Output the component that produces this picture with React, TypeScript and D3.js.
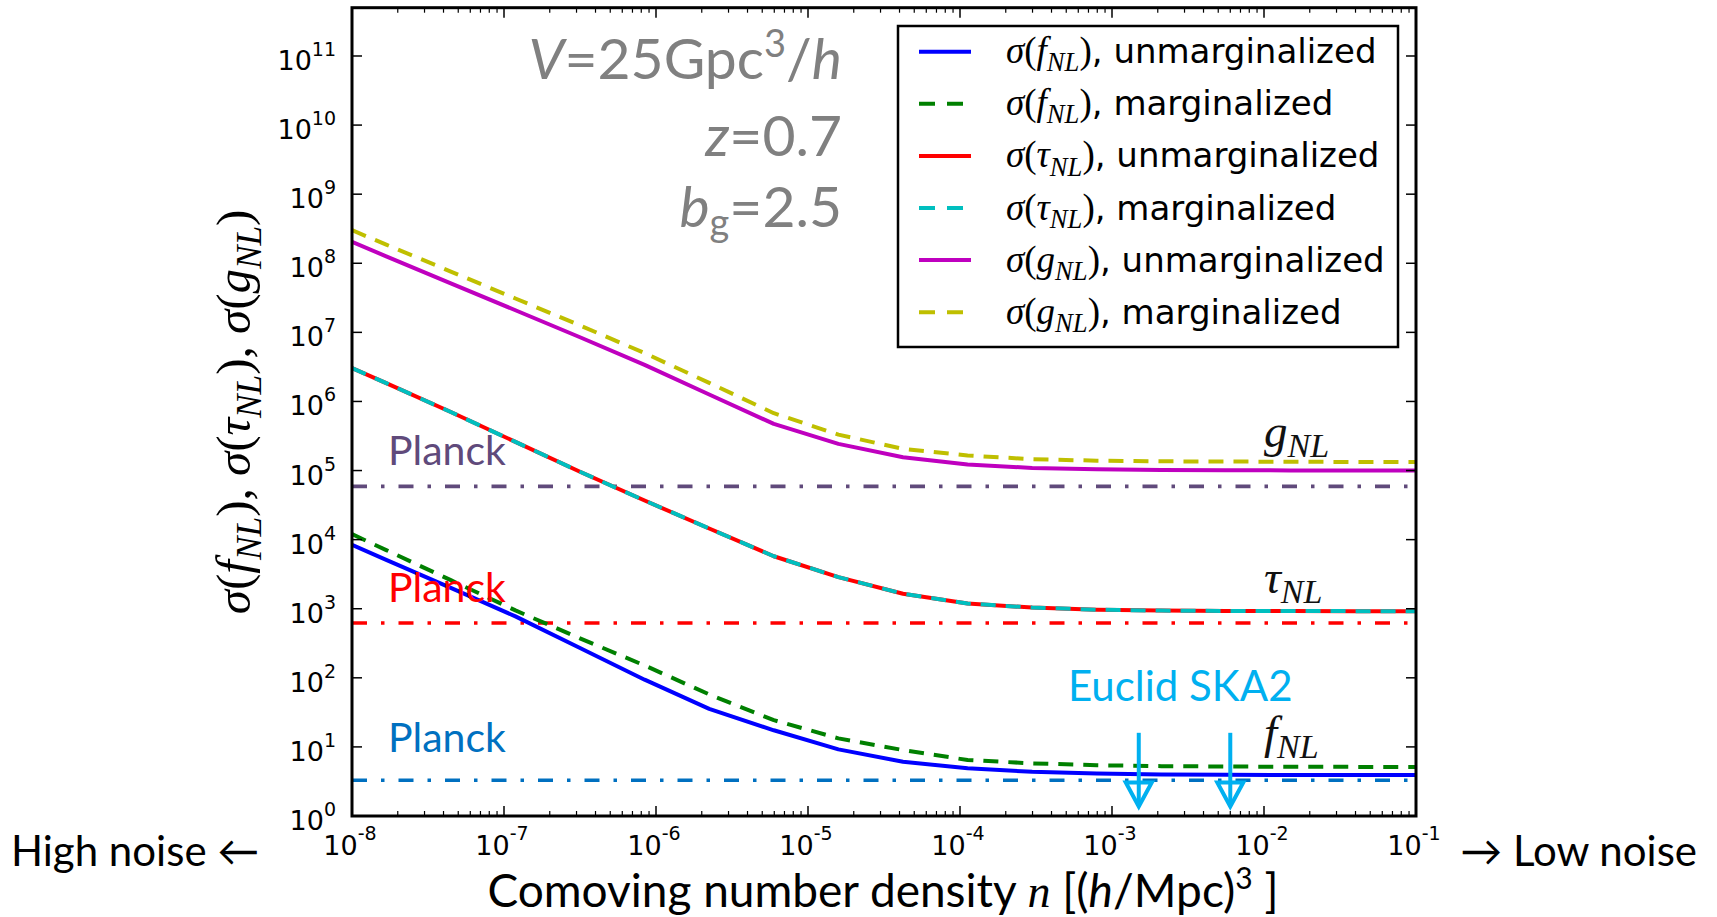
import React from "react";
import * as d3 from "d3";

// Comoving number density sample points [(h/Mpc)^3]
const density = [
  1e-8, 1.679e-8, 4.467e-8, 1.189e-7, 3.162e-7, 8.414e-7, 2.239e-6, 5.957e-6,
  1.585e-5, 4.217e-5, 1.122e-4, 2.985e-4, 7.943e-4, 2.113e-3, 5.623e-3,
  1.496e-2, 3.981e-2, 1e-1,
];

const sigmaFnlUnmarg = [8400, 5100, 2000, 776, 270, 94, 35.5, 17.4, 9.2, 6.1, 4.9, 4.37, 4.12, 4.0, 3.95, 3.93, 3.91, 3.91];
const sigmaFnlMarg = [12000, 7060, 2590, 946, 372, 151, 57.5, 24.4, 13.3, 9.0, 6.46, 5.78, 5.43, 5.27, 5.2, 5.16, 5.14, 5.13];
const sigmaTnlUnmarg = [3.05e6, 1.84e6, 7.03e5, 2.6e5, 9.6e4, 3.68e4, 1.45e4, 5750, 2870, 1650, 1190, 1040, 966, 940, 929, 925, 923, 923];
const sigmaTnlMarg = [3.05e6, 1.84e6, 7.03e5, 2.6e5, 9.6e4, 3.68e4, 1.45e4, 5750, 2870, 1650, 1190, 1040, 966, 940, 929, 925, 923, 923];
const sigmaGnlUnmarg = [2.04e8, 1.26e8, 5.13e7, 2.09e7, 8.5e6, 3.39e6, 1.26e6, 4.73e5, 2.43e5, 1.56e5, 1.22e5, 1.09e5, 1.04e5, 1.02e5, 1.01e5, 1.005e5, 1.0e5, 1.0e5];
const sigmaGnlMarg = [3.01e8, 1.86e8, 7.59e7, 3.09e7, 1.26e7, 5.01e6, 1.86e6, 6.76e5, 3.31e5, 2.06e5, 1.65e5, 1.46e5, 1.39e5, 1.36e5, 1.35e5, 1.34e5, 1.33e5, 1.33e5];

// Planck 1-sigma constraints
const planckFnl = 3.3;
const planckTnl = 620;
const planckGnl = 5.9e4;

// Survey number densities
const surveyDensity = [1.5e-3, 6e-3];
const surveyArrowTop = 16;
const surveyArrowTip = 1.37;

const yTickExponents = [0, 1, 2, 3, 4, 5, 6, 7, 8, 9, 10, 11];
const xTickExponents = [-8, -7, -6, -5, -4, -3, -2, -1];

const W = 1717;
const H = 917;
const L = 352;
const R = 1416;
const T = 7.7;
const B = 816;

const SANS = "'DejaVu Sans', sans-serif";
const SERIF = "'Liberation Serif', 'DejaVu Serif', serif";
const OFFICE = "Lato, 'Open Sans', sans-serif";

const x = d3.scaleLog().domain([1e-8, 1e-1]).range([L, R]);
const y = d3.scaleLog().domain([1, 5e11]).range([B, T]);

const line = d3
  .line<[number, number]>()
  .x((d) => x(d[0]))
  .y((d) => y(d[1]));

const pairs = (vals: number[]) => density.map((n, i) => [n, vals[i]] as [number, number]);

const DASH = "15,10";
const DASHDOT = "15,14,3.5,14";

type Series = { vals: number[]; color: string; dash?: string; sym: string; sub: string; kind: string };
const series: Series[] = [
  { vals: sigmaFnlUnmarg, color: "#0000ff", sym: "f", sub: "NL", kind: "unmarginalized" },
  { vals: sigmaFnlMarg, color: "#008000", dash: DASH, sym: "f", sub: "NL", kind: "marginalized" },
  { vals: sigmaTnlUnmarg, color: "#ff0000", sym: "τ", sub: "NL", kind: "unmarginalized" },
  { vals: sigmaTnlMarg, color: "#00bfbf", dash: DASH, sym: "τ", sub: "NL", kind: "marginalized" },
  { vals: sigmaGnlUnmarg, color: "#bf00bf", sym: "g", sub: "NL", kind: "unmarginalized" },
  { vals: sigmaGnlMarg, color: "#bfbf00", dash: DASH, sym: "g", sub: "NL", kind: "marginalized" },
];

const planck = [
  { v: planckGnl, color: "#604a7b" },
  { v: planckTnl, color: "#ff0000" },
  { v: planckFnl, color: "#0070c0" },
];

const minorTicks = (() => {
  const out: number[] = [];
  for (let e = -8; e < -1; e++) {
    for (let k = 2; k <= 9; k++) out.push(k * Math.pow(10, e));
  }
  return out;
})();

function SigmaLabel({ sym, sub, size }: { sym: string; sub: string; size: number }) {
  return (
    <>
      <tspan fontFamily={SERIF} fontSize={size} fontStyle="italic">σ</tspan>
      <tspan fontFamily={SERIF} fontSize={size}>(</tspan>
      <tspan fontFamily={SERIF} fontSize={size} fontStyle="italic">{sym}</tspan>
      <tspan fontFamily={SERIF} fontStyle="italic" fontSize={size * 0.72} dy={size * 0.22}>{sub}</tspan>
      <tspan fontFamily={SERIF} fontSize={size} dy={-size * 0.22}>)</tspan>
    </>
  );
}

export default function App() {
  const legendX = 898;
  const legendY = 26;
  const rowGap = 52.1;
  const arrowX = surveyDensity.map((d) => x(d));

  return (
    <svg
      width={W}
      height={H}
      viewBox={`0 0 ${W} ${H}`}
      style={{ position: "absolute", left: 0, top: 0, background: "#fff" }}
    >
      <defs>
        <clipPath id="plotArea">
          <rect x={L} y={T} width={R - L} height={B - T} />
        </clipPath>
      </defs>
      <rect width={W} height={H} fill="#fff" />

      <g clipPath="url(#plotArea)">
        {planck.map((p, i) => (
          <line
            key={i}
            x1={L}
            x2={R}
            y1={y(p.v)}
            y2={y(p.v)}
            stroke={p.color}
            strokeWidth={3.6}
            strokeDasharray={DASHDOT}
          />
        ))}
        {series.map((s, i) => (
          <path
            key={i}
            d={line(pairs(s.vals)) || ""}
            fill="none"
            stroke={s.color}
            strokeWidth={4}
            strokeDasharray={s.dash}
            strokeLinejoin="round"
          />
        ))}
      </g>

      {/* Planck labels */}
      <text x={388} y={465} fontFamily={OFFICE} fontSize={41} fill="#604a7b">Planck</text>
      <text x={388} y={602} fontFamily={OFFICE} fontSize={41} fill="#ff0000">Planck</text>
      <text x={388} y={752} fontFamily={OFFICE} fontSize={41} fill="#0070c0">Planck</text>

      {/* curve annotations */}
      {[
        { sym: "g", yb: 447 },
        { sym: "τ", yb: 593 },
        { sym: "f", yb: 748 },
      ].map((a, i) => (
        <text key={i} x={1264} y={a.yb} fontFamily={SERIF} fontStyle="italic" fontSize={47} fill="#111">
          <tspan>{a.sym}</tspan>
          <tspan fontSize={34} dy={10}>NL</tspan>
        </text>
      ))}

      {/* survey markers */}
      <text x={1068} y={701} fontFamily={OFFICE} fontSize={42} fill="#00b0f0">Euclid SKA2</text>
      {arrowX.map((ax, i) => {
        const top = y(surveyArrowTop);
        const tip = y(surveyArrowTip);
        return (
          <g key={i} stroke="#00b0f0" strokeWidth={4} fill="none">
            <line x1={ax} x2={ax} y1={top} y2={tip - 4} />
            <path d={`M${ax - 13},${tip - 24} L${ax + 13},${tip - 24} L${ax},${tip} Z`} strokeLinejoin="miter" />
          </g>
        );
      })}

      {/* axes frame */}
      <rect x={L} y={T} width={R - L} height={B - T} fill="none" stroke="#000" strokeWidth={3} />

      {/* y ticks */}
      {yTickExponents.map((e) => {
        const ty = y(Math.pow(10, e));
        return (
          <g key={e}>
            <line x1={L} x2={L + 10} y1={ty} y2={ty} stroke="#000" strokeWidth={1.5} />
            <line x1={R} x2={R - 10} y1={ty} y2={ty} stroke="#000" strokeWidth={1.5} />
            <text x={336} y={ty + 14} textAnchor="end" fontFamily={SANS} fontSize={27} fill="#000">
              <tspan>10</tspan>
              <tspan fontSize={19} dy={-14}>{e}</tspan>
            </text>
          </g>
        );
      })}

      {/* x ticks */}
      {minorTicks.map((v, i) => (
        <g key={i}>
          <line x1={x(v)} x2={x(v)} y1={B} y2={B - 5} stroke="#000" strokeWidth={1.2} />
          <line x1={x(v)} x2={x(v)} y1={T} y2={T + 5} stroke="#000" strokeWidth={1.2} />
        </g>
      ))}
      {xTickExponents.map((e) => {
        const tx = x(Math.pow(10, e));
        return (
          <g key={e}>
            <line x1={tx} x2={tx} y1={B} y2={B - 10} stroke="#000" strokeWidth={1.5} />
            <line x1={tx} x2={tx} y1={T} y2={T + 10} stroke="#000" strokeWidth={1.5} />
            <text x={tx - 2} y={855} textAnchor="middle" fontFamily={SANS} fontSize={27} fill="#000">
              <tspan>10</tspan>
              <tspan fontSize={19} dy={-15}>{`-${-e}`}</tspan>
            </text>
          </g>
        );
      })}

      {/* y axis label */}
      <text
        transform={`translate(250,${(T + B) / 2}) rotate(-90)`}
        textAnchor="middle"
        fill="#000"
      >
        <SigmaLabel sym="f" sub="NL" size={49} />
        <tspan fontFamily={SERIF} fontSize={49}>, </tspan>
        <SigmaLabel sym="τ" sub="NL" size={49} />
        <tspan fontFamily={SERIF} fontSize={49}>, </tspan>
        <SigmaLabel sym="g" sub="NL" size={49} />
      </text>

      {/* x axis label */}
      <text x={883} y={907} textAnchor="middle" fontFamily={OFFICE} fontSize={46} fill="#000">
        <tspan>Comoving number density </tspan>
        <tspan fontFamily={SERIF} fontStyle="italic">n</tspan>
        <tspan>{"  [("}</tspan>
        <tspan fontStyle="italic">h</tspan>
        <tspan>/Mpc)</tspan>
        <tspan fontSize={30} dy={-18}>3</tspan>
        <tspan dy={18}>{" ]"}</tspan>
      </text>

      <text x={11} y={866} fontFamily={OFFICE} fontSize={42} fill="#000">High noise ←</text>
      <text x={1697} y={866} textAnchor="end" fontFamily={OFFICE} fontSize={42} fill="#000">→ Low noise</text>

      {/* survey parameters */}
      <g fontFamily={OFFICE} fontSize={57} fill="#808080" textAnchor="end">
        <text x={842} y={79}>
          <tspan fontStyle="italic">V</tspan>
          <tspan>=25Gpc</tspan>
          <tspan fontSize={38} dy={-22}>3</tspan>
          <tspan dy={22}>/</tspan>
          <tspan fontStyle="italic">h</tspan>
        </text>
        <text x={842} y={156}>
          <tspan fontStyle="italic">z</tspan>
          <tspan>=0.7</tspan>
        </text>
        <text x={842} y={227}>
          <tspan fontStyle="italic">b</tspan>
          <tspan fontSize={38} dy={9}>g</tspan>
          <tspan dy={-9}>=2.5</tspan>
        </text>
      </g>

      {/* legend */}
      <rect x={legendX} y={legendY} width={500} height={321} fill="#fff" stroke="#000" strokeWidth={2.5} />
      {series.map((s, i) => {
        const cy = legendY + 25.7 + i * rowGap;
        return (
          <g key={i}>
            <line
              x1={919}
              x2={971}
              y1={cy}
              y2={cy}
              stroke={s.color}
              strokeWidth={4}
              strokeDasharray={s.dash ? "16,12" : undefined}
            />
            <text x={1006} y={cy + 11.5} fill="#000">
              <SigmaLabel sym={s.sym} sub={s.sub} size={37} />
              <tspan fontFamily={SANS} fontSize={34}>{`, ${s.kind}`}</tspan>
            </text>
          </g>
        );
      })}
    </svg>
  );
}
